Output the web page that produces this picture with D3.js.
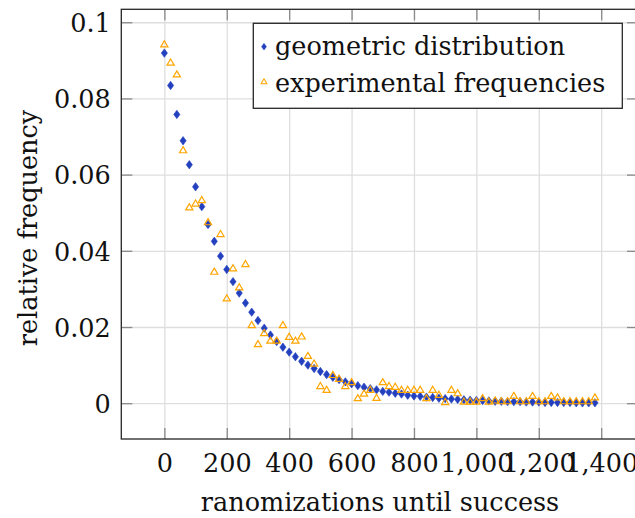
<!DOCTYPE html>
<html>
<head>
<meta charset="utf-8">
<script src="https://cdn.jsdelivr.net/npm/d3@7"></script>
</head>
<body style="margin:0;background:#fff">
<div id="chart"></div>
<script>
// x values: randomizations until success
const steps = [0,20,40,60,80,100,120,140,160,180,200,220,240,260,280,300,320,340,360,380,
  400,420,440,460,480,500,520,540,560,580,600,620,640,660,680,700,720,740,760,780,
  800,820,840,860,880,900,920,940,960,980,1000,1020,1040,1060,1080,1100,1120,1140,1160,1180,
  1200,1220,1240,1260,1280,1300,1320,1340,1360,1380];

// geometric distribution
const geometric = [0.0919,0.0834,0.0758,0.0689,0.0626,0.0568,0.0516,0.0469,0.0425,0.0386,
  0.0351,0.0319,0.0289,0.0263,0.0239,0.0217,0.0197,0.0179,0.0162,0.0147,
  0.0134,0.0122,0.0110,0.0100,0.0091,0.0083,0.0075,0.0068,0.0062,0.0056,
  0.0051,0.0046,0.0042,0.0038,0.0035,0.0031,0.0029,0.0026,0.0024,0.0021,
  0.0019,0.0018,0.0016,0.0015,0.0013,0.0012,0.0011,0.0010,0.0009,0.0008,
  0.0007,0.0007,0.0006,0.0005,0.0005,0.0004,0.0004,0.0004,0.0003,0.0003,
  0.0003,0.0002,0.0002,0.0002,0.0002,0.0002,0.0001,0.0001,0.0001,0.0001];

// experimental frequencies
const experimental = [0.0941,0.0893,0.0862,0.0663,0.0513,0.0523,0.0532,0.0474,0.0344,0.0443,
  0.0274,0.0353,0.0303,0.0364,0.0204,0.0154,0.0183,0.0163,0.0163,0.0204,
  0.0173,0.0163,0.0174,0.0123,0.0103,0.0044,0.0034,0.0073,0.0063,0.0044,
  0.0054,0.0012,0.0024,0.0034,0.0013,0.0054,0.0044,0.0042,0.0034,0.0034,
  0.0034,0.0034,0.0012,0.0034,0.0021,0.0002,0.0034,0.0025,0.0003,0.0003,
  0.0003,0.0012,0.0003,0.0006,0.0004,0.0004,0.0018,0.0004,0.0004,0.0018,
  0.0004,0.0004,0.0018,0.0014,0.0004,0.0004,0.0004,0.0004,0.0004,0.0014];

const xTicks = [0,200,400,600,800,1000,1200,1400];
const yTicks = [0,0.02,0.04,0.06,0.08,0.1];
const yTickLabels = ["0","0.02","0.04","0.06","0.08","0.1"];
const seriesNames = ["geometric distribution","experimental frequencies"];
const xTitle = "ranomizations until success";
const yTitle = "relative frequency";

const W = 635, H = 518;
const mLeft = 121.3, mRight = 638, mTop = 9.3, mBottom = 439;
const blue = "#2341bf", orange = "#ffa500";

const svg = d3.select("#chart").append("svg")
  .attr("width", W).attr("height", H);

const x = d3.scaleLinear().domain([-138, 1518]).range([mLeft, mRight]);
const y = d3.scaleLinear().domain([-0.0094, 0.1034]).range([mBottom, mTop]);

// serif font set straight on every text node
function serif(sel) {
  sel.attr("font-family", "DejaVu Serif").attr("font-size", 25.5).attr("fill", "#111");
}

// grid
svg.append("g")
  .attr("transform", `translate(0,${mBottom})`)
  .call(d3.axisBottom(x).tickValues(xTicks).tickSize(-(mBottom - mTop)).tickFormat(""))
  .call(g => g.select(".domain").remove())
  .selectAll("line").attr("stroke", "#dedede").attr("stroke-width", 1.3);
svg.append("g")
  .attr("transform", `translate(${mLeft},0)`)
  .call(d3.axisLeft(y).tickValues(yTicks).tickSize(-(mRight - mLeft)).tickFormat(""))
  .call(g => g.select(".domain").remove())
  .selectAll("line").attr("stroke", "#dedede").attr("stroke-width", 1.3);

// ticks (inward on all sides)
function styleAxis(g) {
  g.select(".domain").remove();
  g.selectAll("line").attr("stroke", "#8a8a8a").attr("stroke-width", 1.3);
  g.selectAll("text").call(serif);
}
svg.append("g")
  .attr("transform", `translate(0,${mBottom})`)
  .call(d3.axisBottom(x).tickValues(xTicks).tickSize(-11).tickFormat(d3.format(",")))
  .call(styleAxis)
  .selectAll("text").attr("y", 33).attr("dy", null);
svg.append("g")
  .attr("transform", `translate(0,${mTop})`)
  .call(d3.axisTop(x).tickValues(xTicks).tickSize(-11).tickFormat(""))
  .call(styleAxis);
svg.append("g")
  .attr("transform", `translate(${mLeft},0)`)
  .call(d3.axisLeft(y).tickValues(yTicks).tickSize(-11).tickFormat((d, i) => yTickLabels[i]))
  .call(styleAxis)
  .selectAll("text").attr("x", -10.5).attr("dy", "0.36em");
svg.append("g")
  .attr("transform", `translate(${mRight},0)`)
  .call(d3.axisRight(y).tickValues(yTicks).tickSize(-11).tickFormat(""))
  .call(styleAxis);

// frame
svg.append("rect")
  .attr("x", mLeft).attr("y", mTop)
  .attr("width", mRight - mLeft).attr("height", mBottom - mTop)
  .attr("fill", "none").attr("stroke", "#262626").attr("stroke-width", 1.3);

// markers
const diamond = "M0,-4.2L3.1,0L0,4.2L-3.1,0Z";
const triangle = "M0,-4L3.6,2.1L-3.6,2.1Z";

svg.append("g").selectAll("path")
  .data(steps.map((s, i) => [s, geometric[i]]))
  .join("path")
  .attr("d", diamond)
  .attr("transform", d => `translate(${x(d[0])},${y(d[1])})`)
  .attr("fill", blue).attr("stroke", blue).attr("stroke-width", 0.6);

svg.append("g").selectAll("path")
  .data(steps.map((s, i) => [s, experimental[i]]))
  .join("path")
  .attr("d", triangle)
  .attr("transform", d => `translate(${x(d[0])},${y(d[1])})`)
  .attr("fill", "none").attr("stroke", orange).attr("stroke-width", 1.2);

// legend
const lg = svg.append("g");
lg.append("rect")
  .attr("x", 253.3).attr("y", 23.3).attr("width", 369).attr("height", 85)
  .attr("fill", "#fff").attr("stroke", "#262626").attr("stroke-width", 1.3);
lg.append("path").attr("d", diamond)
  .attr("transform", "translate(264,46.7) scale(0.8)")
  .attr("fill", blue).attr("stroke", blue).attr("stroke-width", 0.6);
lg.append("path").attr("d", triangle)
  .attr("transform", "translate(264,82) scale(0.8)")
  .attr("fill", "none").attr("stroke", orange).attr("stroke-width", 1.3);
lg.append("text").attr("x", 275).attr("y", 54.5).call(serif).text(seriesNames[0]);
lg.append("text").attr("x", 275).attr("y", 91.5).call(serif).text(seriesNames[1]);

// axis labels
svg.append("text")
  .attr("x", 380).attr("y", 511).attr("text-anchor", "middle").call(serif)
  .text(xTitle);
svg.append("text")
  .attr("transform", "translate(36.5,228) rotate(-90)")
  .attr("text-anchor", "middle").call(serif)
  .text(yTitle);
</script>
</body>
</html>
